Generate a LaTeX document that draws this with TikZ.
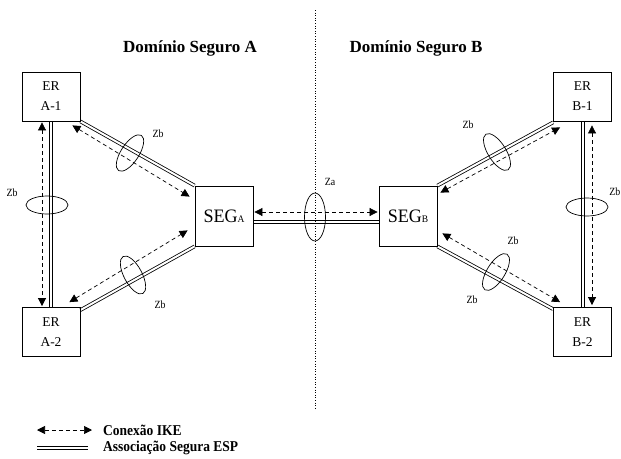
\documentclass[tikz,border=0pt]{standalone}
\usepackage{fontspec}
\setmainfont{Liberation Serif}
\newfontfamily\condfont[FakeStretch=0.9]{Liberation Serif}
\newfontfamily\segfont[FakeStretch=0.95]{Liberation Serif}
\usetikzlibrary{arrows.meta,calc,shapes.geometric,backgrounds}
\begin{document}
\begin{tikzpicture}[x=1pt,y=-1pt,
  box/.style={draw, line width=0.8pt, minimum width=58pt, minimum height=49pt, inner sep=0pt, align=center, font=\fontsize{13.5}{20}\selectfont},
  seg/.style={draw, line width=0.8pt, minimum width=58pt, minimum height=60pt, inner sep=0pt, font=\segfont\fontsize{19}{20}\selectfont},
  esp/.style={double, double distance=2pt, line width=0.8pt},
  ike/.style={line width=0.7pt, dash pattern=on 4pt off 3pt, {Triangle[length=8pt,width=8pt]}-{Triangle[length=8pt,width=8pt]}},
  ring/.style={ellipse, draw, line width=0.7pt, minimum width=42pt, minimum height=18pt, inner sep=0pt},
  zlab/.style={font=\condfont\fontsize{11}{11}\selectfont, inner sep=0pt},
  title/.style={font=\bfseries\fontsize{17}{18}\selectfont, inner sep=0pt},
  legtext/.style={font=\condfont\bfseries\fontsize{15}{16}\selectfont, inner sep=0pt, anchor=west},
  divider/.style={line width=0.6pt, dotted}]
\useasboundingbox (0,0) rectangle (621,458);

% divider
\coordinate (dtop) at (315,10);
\coordinate (dbot) at (315,410);
\draw[divider] (dtop) -- (dbot);

% titles
\node[title] (ta) at (190,48) {Domínio Seguro A};
\node[title] (tb) at (416,48) {Domínio Seguro B};

% boxes
\node[box] (a1) at (51,96.5) {ER\\A-1};
\node[box] (a2) at (51,332) {ER\\A-2};
\node[box] (b1) at (582.5,96.5) {ER\\B-1};
\node[box] (b2) at (582.5,332) {ER\\B-2};
\node[seg] (sega) at (224,216) {SEG{\fontsize{10}{10}\selectfont A}};
\node[seg] (segb) at (408,216) {SEG{\fontsize{10}{10}\selectfont B}};

% ESP associations (double lines)
\begin{scope}[on background layer]
\draw[esp] (a1.south) -- (a2.north);
\draw[esp] (a1.south east) -- (sega.north west);
\draw[esp] ($(a2.north east)+(0,3)$) -- (sega.south west);
\draw[esp] ($(sega.east)+(0,6)$) -- ($(segb.west)+(0,6)$);
\draw[esp] (segb.north east) -- ($(b1.south west)+(0,1)$);
\draw[esp] (segb.south east) -- ($(b2.north west)+(0,2)$);
\draw[esp] ($(b1.south)+(0.5,0)$) -- ($(b2.north)+(0.5,0)$);
\end{scope}

% IKE connections (dashed arrows)
\draw[ike] ($(a1.south)+(-9,1)$) -- ($(a2.north)+(-9,-1)$);
\draw[ike] ($(a1.south east)+(-8,4)$) -- ($(sega.north west)+(-5,11)$);
\draw[ike] ($(a2.north east)+(-11,-5)$) -- ($(sega.south west)+(-7,-16)$);
\draw[ike] ($(sega.east)+(1,-4)$) -- ($(segb.west)+(-1,-4)$);
\draw[ike] ($(segb.north east)+(3,7)$) -- ($(b1.south west)+(7,6)$);
\draw[ike] ($(segb.south east)+(5,-13)$) -- ($(b2.north west)+(7,-5)$);
\draw[ike] ($(b1.south)+(9.5,4)$) -- ($(b2.north)+(9.5,-2)$);

% rings
\node[ring] (ea) at (47,205) {};
\node[ring, rotate=57] (ea1) at (130,153) {};
\node[ring, rotate=-62] (ea2) at (133,275) {};
\node[ring, minimum width=48pt, minimum height=21pt, rotate=90] (ez) at (315,217) {};
\node[ring, rotate=-58] (eb1) at (497,152) {};
\node[ring, rotate=58] (eb2) at (496,272) {};
\node[ring] (eb) at (587,207) {};

% labels
\node[zlab] (z1) at (12,193) {Zb};
\node[zlab] (z2) at (158,134) {Zb};
\node[zlab] (z3) at (160,305) {Zb};
\node[zlab] (z4) at (330,182) {Za};
\node[zlab] (z5) at (468,125) {Zb};
\node[zlab] (z6) at (513,241) {Zb};
\node[zlab] (z7) at (472,300) {Zb};
\node[zlab, anchor=east] (z8) at (620.5,192) {Zb};

% legend
\coordinate (l1a) at (37,430);
\coordinate (l1b) at (92,430);
\coordinate (l2a) at (37,448);
\coordinate (l2b) at (88,448);
\draw[ike] (l1a) -- (l1b);
\draw[esp] (l2a) -- (l2b);
\node[legtext] (lt1) at (103,430) {Conexão IKE};
\node[legtext] (lt2) at (103,448) {Associação Segura ESP};
\end{tikzpicture}
\end{document}
